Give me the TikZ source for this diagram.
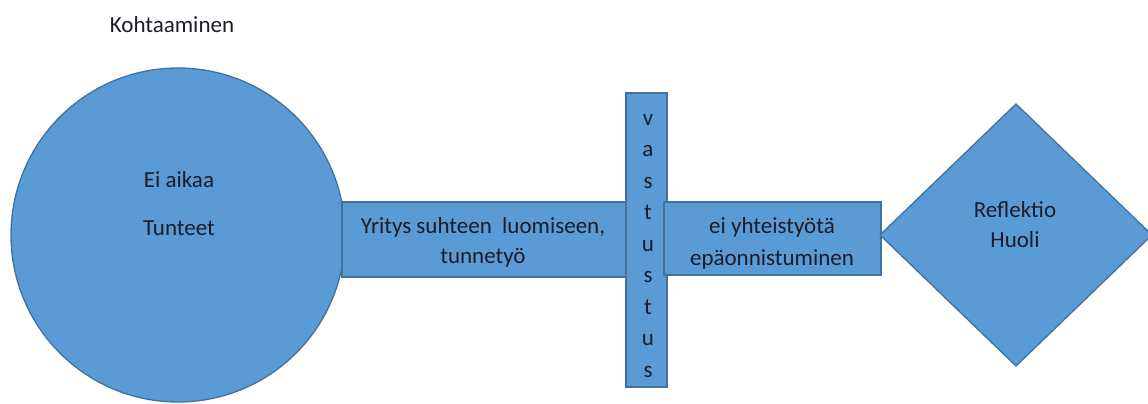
\documentclass[tikz,border=0pt]{standalone}
\usepackage{fontspec}
\setmainfont{Carlito}
\usetikzlibrary{shapes.geometric}
\definecolor{fillblue}{HTML}{5B9BD5}
\definecolor{edgeblue}{HTML}{41719C}
\definecolor{txt}{HTML}{1C1C28}
\begin{document}
\begin{tikzpicture}[x=1pt,y=-1pt,
  shapebox/.style={draw=edgeblue, fill=fillblue, line width=1.3pt, inner sep=0pt, outer sep=0pt},
  lbl/.style={text=txt, font=\fontsize{23}{30}\selectfont, align=center, inner sep=0pt, anchor=base}]
\useasboundingbox (0,0) rectangle (1148,404);
\clip (0,0) rectangle (1148,404);
\node[lbl] (title) at (172,33) {Kohtaaminen};
\node[shapebox, circle, minimum size=334pt] (circ) at (178,235) {};
\node[lbl] (ct1) at (179,187) {Ei aikaa};
\node[lbl] (ct2) at (179,235) {Tunteet};
\node[shapebox, minimum width=285pt, minimum height=75pt] (r1) at (484.5,239.5) {};
\node[lbl] (r1t1) at (483,233) {Yritys suhteen\ \ luomiseen,};
\node[lbl] (r1t2) at (483,263) {tunnetyö};
\node[shapebox, minimum width=41pt, minimum height=294pt] (bar) at (646.5,240) {};
\foreach \ch [count=\i from 0] in {v,a,s,t,u,s,t,u,s}
  \node[lbl] (bt\i) at (648,{125+31.5*\i}) {\ch};
\node[shapebox, minimum width=217pt, minimum height=73pt] (r2) at (772.5,238.5) {};
\node[lbl] (r2t1) at (772,233) {ei yhteistyötä};
\node[lbl] (r2t2) at (772,265) {epäonnistuminen};
\node[shapebox, diamond, minimum width=272pt, minimum height=262pt] (dia) at (1016,235) {};
\node[lbl] (dt1) at (1015,217) {Reflektio};
\node[lbl] (dt2) at (1015,247) {Huoli};
\end{tikzpicture}
\end{document}
